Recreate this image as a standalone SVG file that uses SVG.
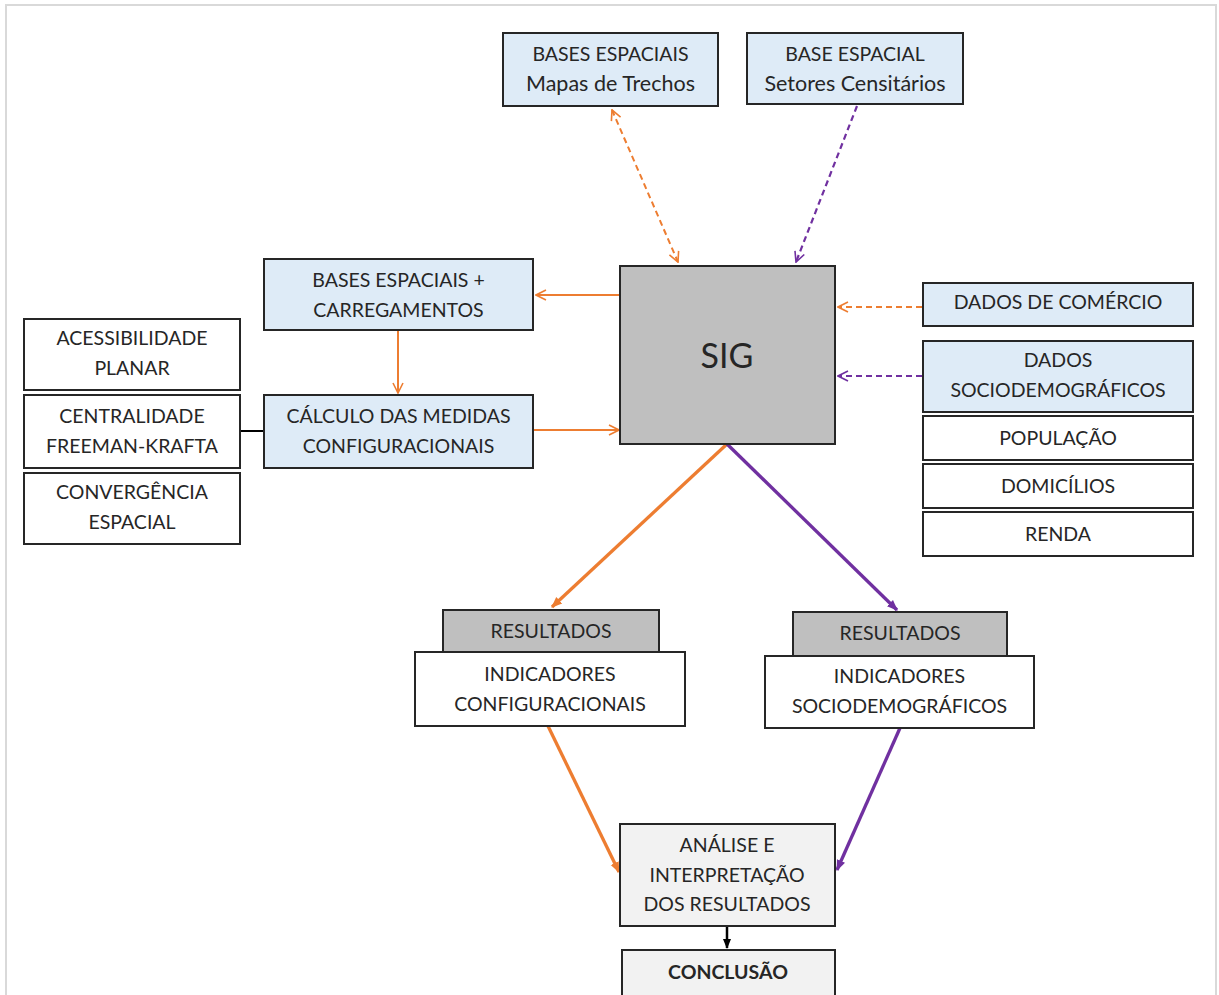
<svg xmlns="http://www.w3.org/2000/svg" width="1219" height="995" viewBox="0 0 1219 995">
<defs>
<marker id="oOpen" viewBox="0 0 12 12" refX="11" refY="6" markerWidth="12" markerHeight="12" markerUnits="userSpaceOnUse" orient="auto-start-reverse"><path d="M1,1 L11,6 L1,11" fill="none" stroke="#ED7D31" stroke-width="1.6"/></marker>
<marker id="pOpen" viewBox="0 0 12 12" refX="11" refY="6" markerWidth="12" markerHeight="12" markerUnits="userSpaceOnUse" orient="auto"><path d="M1,1 L11,6 L1,11" fill="none" stroke="#7030A0" stroke-width="1.6"/></marker>
<marker id="oFill" viewBox="0 0 10 10" refX="9" refY="5" markerWidth="11" markerHeight="11" markerUnits="userSpaceOnUse" orient="auto"><path d="M0,1 L10,5 L0,9 Z" fill="#ED7D31"/></marker>
<marker id="pFill" viewBox="0 0 10 10" refX="9" refY="5" markerWidth="11" markerHeight="11" markerUnits="userSpaceOnUse" orient="auto"><path d="M0,1 L10,5 L0,9 Z" fill="#7030A0"/></marker>
<marker id="kFill" viewBox="0 0 10 10" refX="9" refY="5" markerWidth="10" markerHeight="10" markerUnits="userSpaceOnUse" orient="auto"><path d="M0,1 L10,5 L0,9 Z" fill="#000"/></marker>
</defs>
<style>
.box{stroke:#262626;stroke-width:2}
.blue{fill:#DEEBF7}
.white{fill:#fff}
.gray{fill:#BFBFBF}
.light{fill:#F2F2F2}
text{font-family:Lato,"Open Sans","Liberation Sans",sans-serif;font-size:19.5px;fill:#262626;text-anchor:middle}
.lc{font-size:21.5px}
.or{stroke:#ED7D31;fill:none}
.pu{stroke:#7030A0;fill:none}
</style>
<rect x="6" y="5" width="1210" height="1000" fill="#fff" stroke="#D9D9D9" stroke-width="2"/>

<g id="connectors">
<line class="or" x1="612" y1="110" x2="678" y2="262" stroke-width="2" stroke-dasharray="6,4" marker-start="url(#oOpen)" marker-end="url(#oOpen)"/>
<line class="pu" x1="857" y1="106" x2="796" y2="262" stroke-width="2.2" stroke-dasharray="6,4" marker-end="url(#pOpen)"/>
<line class="or" x1="620" y1="295" x2="536" y2="295" stroke-width="2" marker-end="url(#oOpen)"/>
<line class="or" x1="398" y1="330" x2="398" y2="393" stroke-width="2" marker-end="url(#oOpen)"/>
<line class="or" x1="533" y1="430" x2="619" y2="430" stroke-width="2" marker-end="url(#oOpen)"/>
<line x1="240" y1="431" x2="264" y2="431" stroke="#000" stroke-width="2"/>
<line class="or" x1="922" y1="307" x2="838" y2="307" stroke-width="2" stroke-dasharray="6,4" marker-end="url(#oOpen)"/>
<line class="pu" x1="922" y1="376" x2="838" y2="376" stroke-width="2.2" stroke-dasharray="6,4" marker-end="url(#pOpen)"/>
<line class="or" x1="727" y1="444" x2="552" y2="607" stroke-width="3.3" marker-end="url(#oFill)"/>
<line class="pu" x1="727" y1="444" x2="897" y2="610" stroke-width="3.3" marker-end="url(#pFill)"/>
<line class="or" x1="548" y1="726" x2="619" y2="872" stroke-width="3.3" marker-end="url(#oFill)"/>
<line class="pu" x1="900" y1="728" x2="837" y2="870" stroke-width="3.3" marker-end="url(#pFill)"/>
<line x1="727" y1="926" x2="727" y2="948" stroke="#000" stroke-width="2.5" marker-end="url(#kFill)"/>
</g>

<g id="n-mapas"><rect class="box blue" x="503" y="33" width="215" height="73"/><text x="610.5" y="61">BASES ESPACIAIS</text><text class="lc" x="610.5" y="91">Mapas de Trechos</text></g>
<g id="n-setores"><rect class="box blue" x="747" y="33" width="216" height="71"/><text x="855" y="61">BASE ESPACIAL</text><text class="lc" x="855" y="91">Setores Censitários</text></g>
<g id="n-carreg"><rect class="box blue" x="264" y="259" width="269" height="71"/><text x="398.5" y="287">BASES ESPACIAIS +</text><text x="398.5" y="317">CARREGAMENTOS</text></g>
<g id="n-sig"><rect class="box gray" x="620" y="266" width="215" height="178"/><text x="727" y="368" style="font-size:34px">SIG</text></g>
<g id="n-comercio"><rect class="box blue" x="923" y="283" width="270" height="43"/><text x="1058" y="309">DADOS DE COMÉRCIO</text></g>
<g id="n-sociodem"><rect class="box blue" x="923" y="341" width="270" height="71"/><text x="1058" y="367">DADOS</text><text x="1058" y="397">SOCIODEMOGRÁFICOS</text></g>
<g id="n-populacao"><rect class="box white" x="923" y="416" width="270" height="44"/><text x="1058" y="445">POPULAÇÃO</text></g>
<g id="n-domicilios"><rect class="box white" x="923" y="464" width="270" height="44"/><text x="1058" y="493">DOMICÍLIOS</text></g>
<g id="n-renda"><rect class="box white" x="923" y="512" width="270" height="44"/><text x="1058" y="541">RENDA</text></g>
<g id="n-acess"><rect class="box white" x="24" y="319" width="216" height="71"/><text x="132" y="345">ACESSIBILIDADE</text><text x="132" y="375">PLANAR</text></g>
<g id="n-central"><rect class="box white" x="24" y="395" width="216" height="73"/><text x="132" y="423">CENTRALIDADE</text><text x="132" y="453">FREEMAN-KRAFTA</text></g>
<g id="n-converg"><rect class="box white" x="24" y="473" width="216" height="71"/><text x="132" y="499">CONVERGÊNCIA</text><text x="132" y="529">ESPACIAL</text></g>
<g id="n-calculo"><rect class="box blue" x="264" y="395" width="269" height="73"/><text x="398.5" y="423">CÁLCULO DAS MEDIDAS</text><text x="398.5" y="453">CONFIGURACIONAIS</text></g>
<g id="n-res1"><rect class="box gray" x="443" y="610" width="216" height="42"/><text x="551" y="638">RESULTADOS</text></g>
<g id="n-ind1"><rect class="box white" x="415" y="652" width="270" height="74"/><text x="550" y="681">INDICADORES</text><text x="550" y="711">CONFIGURACIONAIS</text></g>
<g id="n-res2"><rect class="box gray" x="793" y="612" width="214" height="44"/><text x="900" y="640">RESULTADOS</text></g>
<g id="n-ind2"><rect class="box white" x="765" y="656" width="269" height="72"/><text x="899.5" y="683">INDICADORES</text><text x="899.5" y="713">SOCIODEMOGRÁFICOS</text></g>
<g id="n-analise"><rect class="box light" x="620" y="824" width="215" height="102"/><text x="727" y="852">ANÁLISE E</text><text x="727" y="882">INTERPRETAÇÃO</text><text x="727" y="911">DOS RESULTADOS</text></g>
<g id="n-conclusao"><rect class="box light" x="622" y="950" width="213" height="60"/><text x="728" y="979" style="font-weight:bold">CONCLUSÃO</text></g>
</svg>
